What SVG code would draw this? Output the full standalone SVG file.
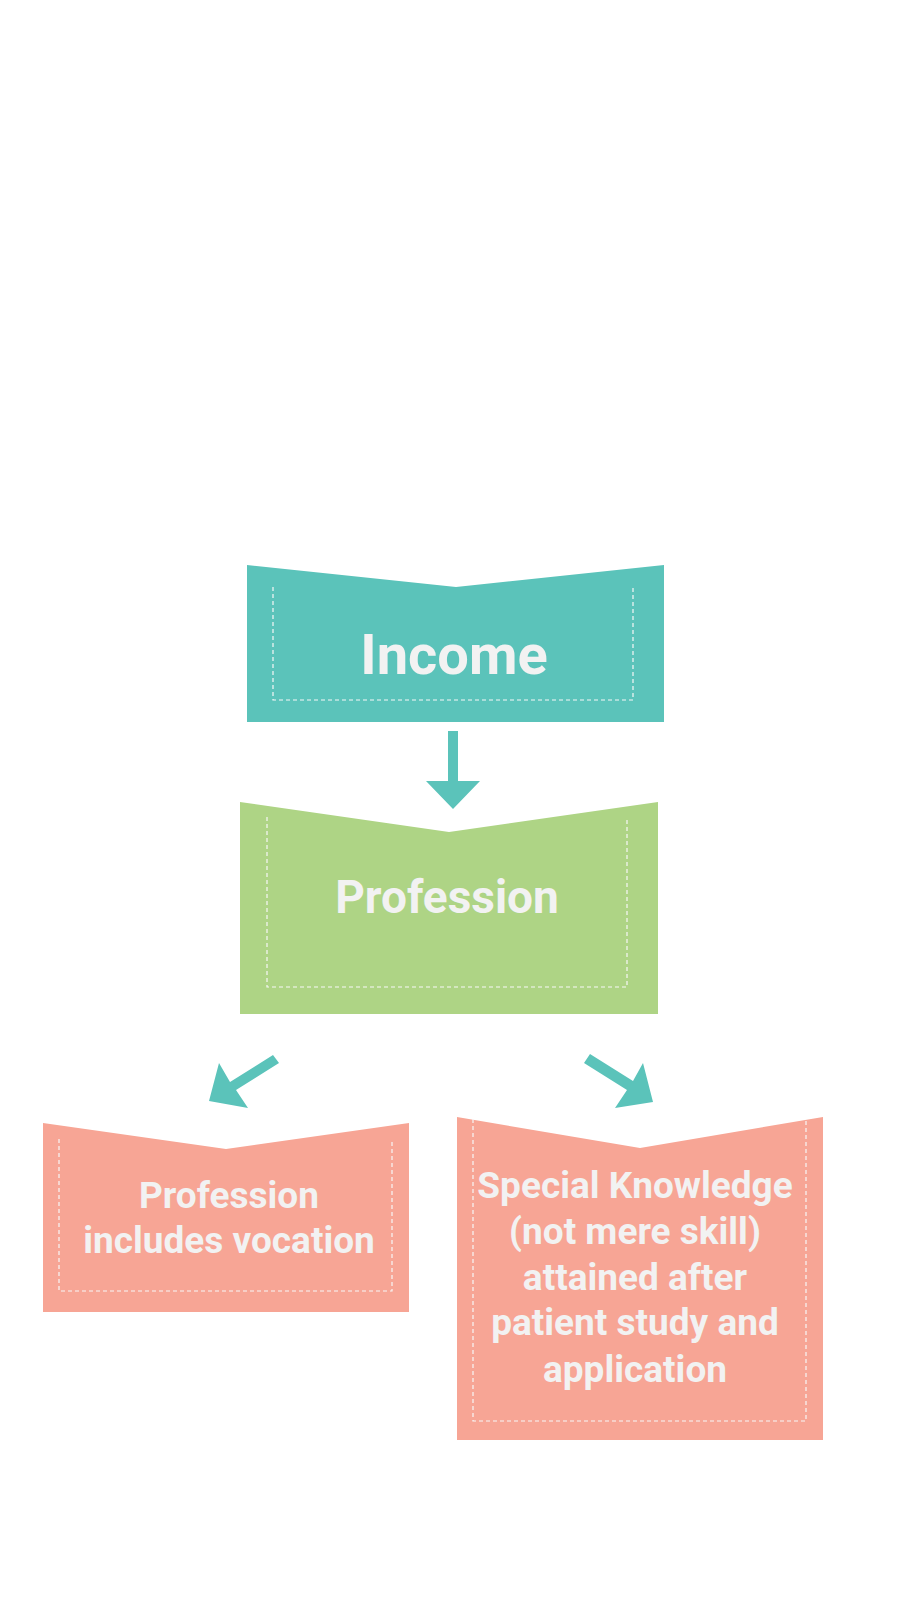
<svg xmlns="http://www.w3.org/2000/svg" width="900" height="1600" viewBox="0 0 900 1600">
<style>
.lbl{font-family:Roboto,"Liberation Sans",Arial,sans-serif;font-weight:700;fill:#F2F2F2;text-anchor:middle}
.dash{fill:none;stroke:#F7F7F7;stroke-width:1.2;stroke-dasharray:4 3}
.arrow{fill:#5BC3BA}
</style>
<rect width="900" height="1600" fill="#FFFFFF"/>
<g id="income">
<polygon points="247,565 456,587 664,565 664,722 247,722" fill="#5BC3BA"/>
<polyline class="dash" points="273,587 273,700 633,700 633,587"/>
<text class="lbl" x="454" y="674" font-size="56">Income</text>
</g>
<g id="profession">
<polygon points="240,802 449,832 658,802 658,1014 240,1014" fill="#AED485"/>
<polyline class="dash" points="267,817 267,987 627,987 627,817"/>
<text class="lbl" x="447" y="913" font-size="46">Profession</text>
</g>
<g id="vocation">
<polygon points="43,1123 226,1149 409,1123 409,1312 43,1312" fill="#F7A595"/>
<polyline class="dash" points="59,1139 59,1291 392,1291 392,1139"/>
<text class="lbl" x="229" y="1208" font-size="37">Profession</text>
<text class="lbl" x="229" y="1253" font-size="37">includes vocation</text>
</g>
<g id="knowledge">
<polygon points="457,1117 640,1148 823,1117 823,1440 457,1440" fill="#F7A595"/>
<polyline class="dash" points="473,1119 473,1421 806,1421 806,1119"/>
<text class="lbl" x="635" y="1198" font-size="37">Special Knowledge</text>
<text class="lbl" x="635" y="1244" font-size="37">(not mere skill)</text>
<text class="lbl" x="635" y="1290" font-size="37">attained after</text>
<text class="lbl" x="635" y="1335" font-size="37">patient study and</text>
<text class="lbl" x="635" y="1382" font-size="37">application</text>
</g>
<g id="connectors">
<polygon class="arrow" points="448,731 458,731 458,781 480,781 453,809 426,781 448,781"/>
<polygon class="arrow" points="279,1063 273,1055 230,1082 219,1063 209,1101 248,1108 236,1090"/>
<polygon class="arrow" points="584,1063 590,1054 633,1081 643,1063 653,1102 615,1108 627,1090"/>
</g>
</svg>
